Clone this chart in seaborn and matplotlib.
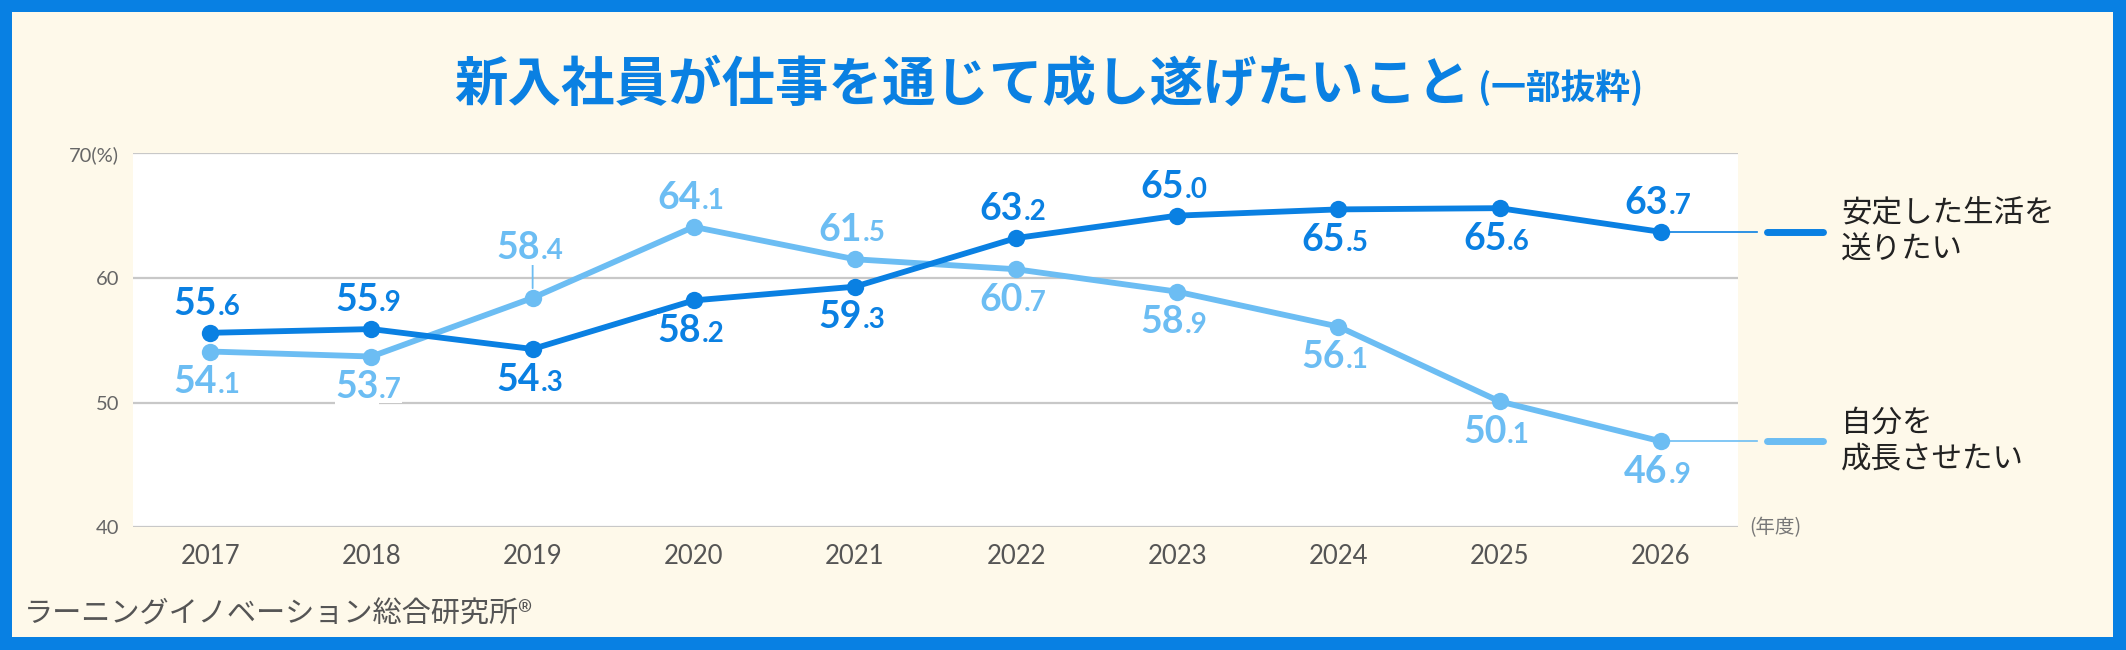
import pandas as pd
import seaborn as sns
import matplotlib.pyplot as plt
from matplotlib.patches import Rectangle

years = [2017, 2018, 2019, 2020, 2021, 2022, 2023, 2024, 2025, 2026]
stable = [55.6, 55.9, 54.3, 58.2, 59.3, 63.2, 65.0, 65.5, 65.6, 63.7]
growth = [54.1, 53.7, 58.4, 64.1, 61.5, 60.7, 58.9, 56.1, 50.1, 46.9]
series_names = ["安定した生活を\n送りたい", "自分を\n成長させたい"]
yticks = [40, 50, 60, 70]
ytick_labels = ["40", "50", "60", "70(%)"]

# which side of the point each value label sits on
stable_side = ["up", "up", "down", "down", "down", "up", "up", "down", "down", "up"]
growth_side = ["down", "down", "lead", "up", "up", "down", "down", "down", "down", "down"]

title = "新入社員が仕事を通じて成し遂げたいこと"
title_sub = "(一部抜粋)"
source = "ラーニングイノベーション総合研究所®"

dark = "#0A80E2"
light = "#6CBDF3"
cream = "#FEF9EA"
border = "#0880E3"

plt.rcParams["font.family"] = ["Noto Sans CJK JP", "DejaVu Sans"]

df = pd.DataFrame({
    "year": years * 2,
    "value": growth + stable,
    "series": [series_names[1]] * len(years) + [series_names[0]] * len(years),
})
pal = {series_names[0]: dark, series_names[1]: light}

W, H = 2126, 650
fig = plt.figure(figsize=(W / 100, H / 100), dpi=100, facecolor=border)
fig.add_artist(Rectangle((12 / W, 13 / H), (W - 25) / W, (H - 25) / H,
                         transform=fig.transFigure, facecolor=cream,
                         edgecolor="none", zorder=-10))
ax = fig.add_axes([133 / W, (H - 527.3) / H, (1738 - 133) / W, (527.3 - 153.3) / H])
ax.set_facecolor("white")

sns.lineplot(data=df, x="year", y="value", hue="series", palette=pal,
             hue_order=[series_names[1], series_names[0]],
             marker="o", markersize=12.5, markeredgewidth=0, linewidth=4.2,
             legend=False, ax=ax, zorder=3)

ax.set_xlim(years[0] - 0.48, years[-1] + 0.48)
ax.set_ylim(40, 70)
ax.set_yticks(yticks)
ax.set_yticklabels(ytick_labels, fontsize=14.5, color="#666666", family=["Lato", "DejaVu Sans"])
ax.set_xticks(years)
ax.set_xticklabels([str(y) for y in years], fontsize=18.5, color="#555555", family=["Lato", "DejaVu Sans"])
ax.tick_params(length=0)
ax.tick_params(axis="y", pad=10)
ax.tick_params(axis="x", pad=12)
ax.yaxis.grid(True, color="#C8C8C8", linewidth=1.6)
ax.xaxis.grid(False)
ax.set_axisbelow(True)
for s in ax.spines.values():
    s.set_visible(False)
ax.set_xlabel("")
ax.set_ylabel("")


def value_label(x, v, side, color):
    whole, dec = f"{v:.1f}".split(".")
    if side == "up":
        dy = 13
    elif side == "lead":
        dy = 28
    else:
        dy = -30
    kw = dict(xycoords="data", textcoords="offset points", va="baseline",
              color=color, fontweight="bold", family=["Lato", "DejaVu Sans"],
              zorder=5, annotation_clip=False,
              bbox=dict(facecolor="white", edgecolor="none", pad=0.3))
    ax.annotate(whole, (x, v), xytext=(5, dy), ha="right", fontsize=27, **kw)
    ax.annotate("." + dec, (x, v), xytext=(5.5, dy), ha="left", fontsize=20, **kw)


for x, v, side in zip(years, stable, stable_side):
    value_label(x, v, side, dark)
for x, v, side in zip(years, growth, growth_side):
    value_label(x, v, side, light)

# leader tick for the raised 2019 label
i = growth_side.index("lead")
ax.annotate("", xy=(years[i], growth[i]), xycoords="data",
            xytext=(0, 26), textcoords="offset points",
            arrowprops=dict(arrowstyle="-", color=light, lw=1.3,
                            shrinkA=0, shrinkB=7))

# direct labels on the right
for vals, name, color in [(stable, series_names[0], dark), (growth, series_names[1], light)]:
    yv = vals[-1]
    ax.plot([years[-1], years[-1] + 0.6], [yv, yv], color=color, lw=1.2,
            clip_on=False, zorder=2)
    ax.plot([years[-1] + 0.66, years[-1] + 1.01], [yv, yv], color=color, lw=5,
            solid_capstyle="round", clip_on=False, zorder=2)
    ax.text(years[-1] + 1.12, yv, name, fontsize=22, color="#222222",
            va="center", ha="left", linespacing=1.2, clip_on=False)

ax.text(years[-1] + 0.55, 40, "(年度)", fontsize=14, color="#777777",
        va="center", ha="left", clip_on=False)

fig.text(1471 / W, 1 - 85 / H, title, fontsize=38.5, fontweight="bold",
         color=dark, ha="right", va="center")
fig.text(1478 / W, 1 - 88 / H, title_sub, fontsize=25, fontweight="bold",
         color=dark, ha="left", va="center")
fig.text(24 / W, 1 - 615 / H, source, fontsize=21, color="#555555",
         ha="left", va="center")

fig.savefig("out.png", dpi=100, facecolor=fig.get_facecolor())
